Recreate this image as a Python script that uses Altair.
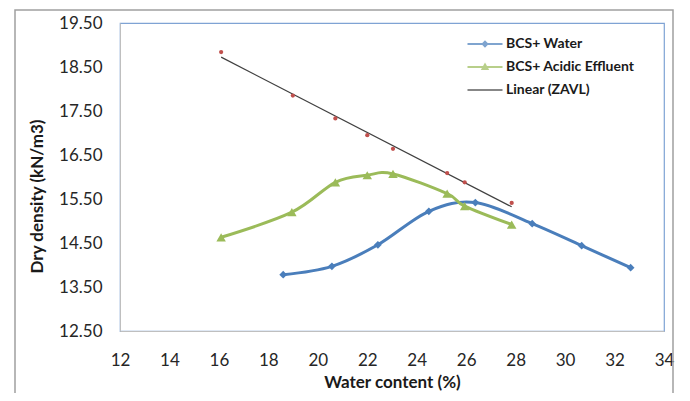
import altair as alt
import pandas as pd

# ---- data ----
water_x = [18.60, 20.57, 22.43, 24.49, 26.37, 28.67, 30.67, 32.65]
water_y = [13.78, 13.97, 14.46, 15.22, 15.42, 14.94, 14.44, 13.94]

acid_x = [16.09, 18.95, 20.71, 22.00, 23.04, 25.23, 25.94, 27.84]
acid_y = [14.63, 15.20, 15.88, 16.04, 16.07, 15.62, 15.34, 14.92]

zav_x = [16.09, 18.99, 20.71, 22.00, 23.04, 25.23, 25.94, 27.84]
zav_y = [18.84, 17.85, 17.33, 16.95, 16.64, 16.09, 15.88, 15.41]

legend_labels = ["BCS+ Water", "BCS+ Acidic Effluent", "Linear (ZAVL)"]
x_ticks = list(range(12, 35, 2))
y_ticks = [12.5, 13.5, 14.5, 15.5, 16.5, 17.5, 18.5, 19.5]

BLUE = "#4a7ebb"
GREEN = "#9bbb59"
RED = "#c0504d"
DARK = "#404040"
FONT = "Lato"

water = pd.DataFrame({"x": water_x, "y": water_y})
acid = pd.DataFrame({"x": acid_x, "y": acid_y})
zav = pd.DataFrame({"x": zav_x, "y": zav_y})
leg = pd.DataFrame({"series": legend_labels})

xs = alt.Scale(domain=[12, 34], nice=False, zero=False)
ys = alt.Scale(domain=[12.5, 19.5], nice=False, zero=False)

x_axis = alt.Axis(values=x_ticks, title="Water content (%)", grid=False, ticks=False,
                  tickSize=0, labelPadding=21, labelFlush=False, domainColor="#bfbfbf",
                  titleX=272, titleY=51, titleBaseline="middle")
y_axis = alt.Axis(values=y_ticks, format=".2f", title="Dry density (kN/m3)", grid=False,
                  ticks=False, tickSize=0, labelPadding=18, labelFlush=False, domainColor="#bfbfbf",
                  titleX=-83, titleY=173, titleBaseline="middle", titleAngle=-90)

X = alt.X("x:Q", scale=xs, axis=x_axis)
Y = alt.Y("y:Q", scale=ys, axis=y_axis)
Xn = alt.X("x:Q", scale=xs)
Yn = alt.Y("y:Q", scale=ys)

frame = alt.Chart(leg).mark_rect(fill=None, stroke="#a0a0a0", strokeWidth=1.5).encode(
    x=alt.value(-105), x2=alt.value(553), y=alt.value(-13), y2=alt.value(400)
).transform_filter("datum.series == 'BCS+ Water'")

water_line = alt.Chart(water).mark_line(color=BLUE, strokeWidth=3, interpolate="cardinal").encode(x=X, y=Y)
water_pts = alt.Chart(water).mark_point(shape="diamond", filled=True, size=60, color=BLUE, opacity=1).encode(x=Xn, y=Yn)

acid_line = alt.Chart(acid).mark_line(color=GREEN, strokeWidth=3, interpolate="cardinal").encode(x=Xn, y=Yn)
acid_pts = alt.Chart(acid).mark_point(shape="triangle-up", filled=True, size=90, color=GREEN, opacity=1).encode(x=Xn, y=Yn)

trend = alt.Chart(zav).transform_regression("x", "y").mark_line(color=DARK, strokeWidth=1.2).encode(x=Xn, y=Yn)
zav_pts = alt.Chart(zav).mark_circle(color=RED, size=18, opacity=1).encode(x=Xn, y=Yn)

shapes = [
    "M-3.5,0H3.5M0,-0.45L0.45,0L0,0.45L-0.45,0Z",
    "M-3.5,0H3.5M0,-0.5L0.5,0.4L-0.5,0.4Z",
    "M-3.5,0H3.5",
]
legend_layer = alt.Chart(leg).transform_filter("false").mark_point(filled=False, strokeWidth=2).encode(
    color=alt.Color("series:N", scale=alt.Scale(domain=legend_labels, range=[BLUE, GREEN, "#555555"]),
                    legend=alt.Legend(title=None, orient="none", legendX=358, legendY=14,
                                      symbolSize=100, labelOffset=14, rowPadding=9,
                                      labelFont=FONT, labelFontSize=14, labelFontWeight="bold",
                                      labelColor="#1a1a1a", symbolStrokeWidth=2)),
    shape=alt.Shape("series:N", scale=alt.Scale(domain=legend_labels, range=shapes), legend=None),
)

chart = alt.layer(frame, water_line, acid_line, trend, zav_pts, water_pts, acid_pts, legend_layer).properties(
    width=544, height=308,
    autosize=alt.AutoSizeParams(type="none"),
    padding={"left": 112, "top": 15, "right": 18, "bottom": 62},
).configure_view(stroke="#7fa3d4", strokeWidth=1.2).configure_axis(
    labelFont=FONT, labelFontSize=17, labelColor="#262626",
    titleFont=FONT, titleFontSize=17, titleFontWeight="bold", titleColor="#1a1a1a",
)

chart.save("out.html", embed_options={"renderer": "svg", "actions": False})
